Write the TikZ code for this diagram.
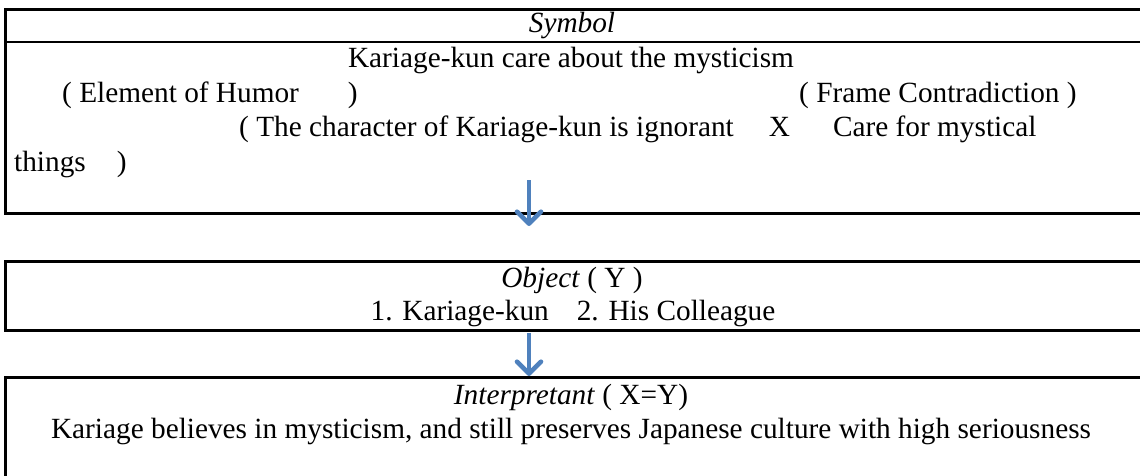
\documentclass[tikz,border=0pt]{standalone}
\usepackage{fontspec}
\setmainfont{Liberation Serif}
\usetikzlibrary{arrows.meta}
\definecolor{arrowblue}{HTML}{4F81BD}
\begin{document}
\begin{tikzpicture}[x=1pt,y=-1pt,
  txt/.style={inner sep=0pt, font=\fontsize{29.3}{34}\selectfont},
  lt/.style={txt, anchor=base west},
  ct/.style={txt, anchor=base},
  frame/.style={draw=black, line width=2.6pt, inner sep=0pt, anchor=north west},
  flow/.style={draw=arrowblue, line width=4.6pt, line join=round,
    -{Straight Barb[length=12pt,width=24pt,line join=round,line cap=round]}}]
\useasboundingbox (0,0) rectangle (1140,476);
\clip (0,0) rectangle (1140,476);
% boxes
\node[frame, minimum width=1150pt, minimum height=204pt] (sym) at (4,8) {};
\node[frame, minimum width=1150pt, minimum height=69pt] (obj) at (4,260) {};
\node[frame, minimum width=1150pt, minimum height=130pt] (interp) at (4,376) {};
\coordinate (hl) at (4,42);
\coordinate (hr) at (1154,42);
\draw[black, line width=2.6pt] (hl) -- (hr);
% symbol box text
\node[ct] (t0) at (572,33) {\itshape Symbol};
\node[ct] (t1) at (571,68) {Kariage-kun care about the mysticism};
\node[lt] (t2a) at (62,103) {( Element of Humor\hspace{49pt})};
\node[lt] (t2b) at (799,103) {( Frame Contradiction )};
\node[lt] (t3) at (239,137) {( The character of Kariage-kun is ignorant\hspace{35pt}X\hspace{43pt}Care for mystical};
\node[lt] (t4) at (14,171) {things\hspace{31pt})};
% object box text
\node[ct] (o1) at (572,287) {\textit{Object} ( Y )};
\node[ct] (o2) at (573,320) {1. Kariage-kun\hspace{28pt}2. His Colleague};
% interpretant box text
\node[ct] (i1) at (571,404) {\textit{Interpretant} ( X=Y)};
\node[ct] (i2) at (571,438) {Kariage believes in mysticism, and still preserves Japanese culture with high seriousness};
% arrows
\coordinate (a1s) at (529,180);
\coordinate (a1e) at (529,226);
\draw[flow] (a1s) -- (a1e);
\draw[flow] (obj.south -| a1s) ++(0,1) -- (interp.north -| a1s);
\end{tikzpicture}
\end{document}
